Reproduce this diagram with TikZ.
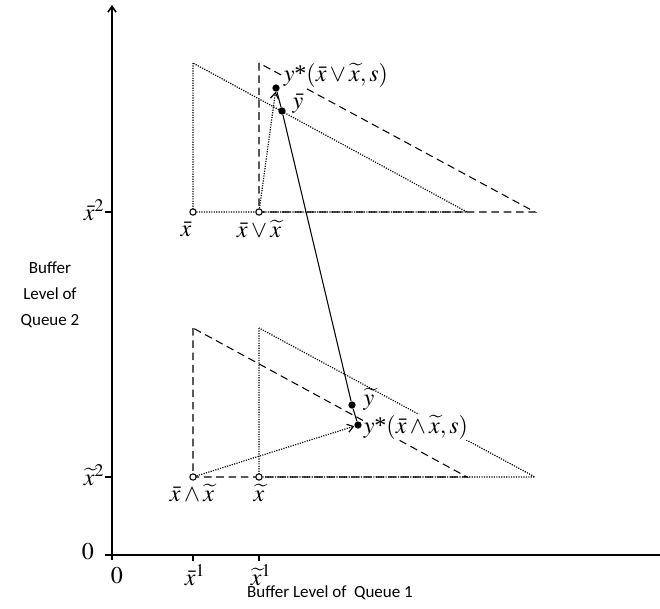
\documentclass[tikz,border=0pt]{standalone}
\usepackage{mathptmx}
\usepackage{fontspec}
\newfontfamily\labelfont{Carlito}
\newfontfamily\timesfont{Liberation Serif}
\newcommand{\astx}{\mbox{\timesfont *}}
\usetikzlibrary{arrows.meta}
\begin{document}
\begin{tikzpicture}[x=0.03cm,y=-0.03cm,
  dotl/.style={dash pattern=on 1pt off 1.1pt, line width=1pt},
  dashl/.style={dash pattern=on 6.5pt off 4pt, line width=0.9pt},
  axisl/.style={line width=1.3pt},
  tickl/.style={line width=1pt},
  opendot/.style={circle, draw, line width=0.9pt, fill=white, inner sep=0pt, minimum size=0.19cm},
  fulldot/.style={circle, fill=black, inner sep=0pt, minimum size=0.22cm},
  mlab/.style={font=\fontsize{20.5}{24}\selectfont, inner sep=0.5pt},
  blab/.style={mlab, fill=white},
  slab/.style={font=\labelfont\fontsize{14.5}{22}\selectfont, align=center, inner sep=0pt},
  arr/.style={-{Straight Barb[length=5pt,width=7pt]}}]
\useasboundingbox (0,0) rectangle (660,609);

% axes
\coordinate (ybot) at (112,560);
\coordinate (ytop) at (112,5);
\coordinate (xl) at (105,555);
\coordinate (xr) at (672,555);
\draw[axisl,arr] (ybot) -- (ytop);
\draw[axisl,arr] (xl) -- (xr);
\coordinate (t1a) at (193,555); \coordinate (t1b) at (193,561);
\coordinate (t2a) at (259,555); \coordinate (t2b) at (259,561);
\coordinate (t3a) at (105,212); \coordinate (t3b) at (112,212);
\coordinate (t4a) at (105,477); \coordinate (t4b) at (112,477);
\draw[tickl] (t1a) -- (t1b) (t2a) -- (t2b) (t3a) -- (t3b) (t4a) -- (t4b);

% axis labels
\node[mlab] (zx) at (117,576) {$0$};
\node[mlab] (zy) at (88,552) {$0$};
\node[mlab] (xb1) at (195,575) {$\bar{x}^1$};
\node[mlab] (xt1) at (261,575) {$\widetilde{x}^1$};
\node[mlab, anchor=east] (xb2) at (105,210) {$\bar{x}^2$};
\node[mlab, anchor=east] (xt2) at (105,475) {$\widetilde{x}^2$};
\node[slab] (lq1) at (330,593) {Buffer Level of\ \ Queue 1};
\node[slab] (lq2) at (50,295) {Buffer\\Level of\\Queue 2};

% upper triangles
\coordinate (uA) at (193,63);
\coordinate (uB) at (193,212);
\coordinate (uC) at (467,212);
\coordinate (uD) at (259,63);
\coordinate (uE) at (259,212);
\coordinate (uF) at (535,212);
\draw[dotl] (uA) -- (uB) -- (uC) -- cycle;
\draw[dashl] (uD) -- (uE) -- (uF) -- cycle;

% lower triangles
\coordinate (lA) at (193,328);
\coordinate (lB) at (193,477);
\coordinate (lC) at (467,477);
\coordinate (lD) at (259,328);
\coordinate (lE) at (259,477);
\coordinate (lF) at (535,477);
\draw[dashl] (lA) -- (lB) -- (lC) -- cycle;
\draw[dotl] (lD) -- (lE) -- (lF) -- cycle;

% labels covering lines
\node[blab, anchor=west] (lyu) at (283,75) {$y\astx(\bar{x}\vee\widetilde{x},s)$};
\node[blab, anchor=west] (lyl) at (363,427) {$y\astx(\bar{x}\wedge\widetilde{x},s)$};
\node[mlab] (lyb) at (298,104) {$\bar{y}$};
\node[mlab] (lyt) at (369,399) {$\widetilde{y}$};

% points
\node[opendot] (xb) at (193,212) {};
\node[opendot] (xv) at (259,212) {};
\node[opendot] (xw) at (193,477) {};
\node[opendot] (xt) at (259,477) {};
\node[fulldot] (ysu) at (276,88) {};
\node[fulldot] (yb) at (282,111) {};
\node[fulldot] (yt) at (352,405) {};
\node[fulldot] (ysl) at (358,425) {};

% point labels
\node[mlab] (lxb) at (186,229) {$\bar{x}$};
\node[mlab] (lxv) at (259,229) {$\bar{x}\vee\widetilde{x}$};
\node[mlab] (lxw) at (192,493) {$\bar{x}\wedge\widetilde{x}$};
\node[mlab] (lxt) at (259,493) {$\widetilde{x}$};

% connectors
\draw[dotl,arr] (xv) -- (ysu);
\draw[dotl,arr] (xw) -- (ysl);
\draw[line width=0.9pt] (ysu) -- (yb) -- (yt) -- (ysl);
\end{tikzpicture}
\end{document}
